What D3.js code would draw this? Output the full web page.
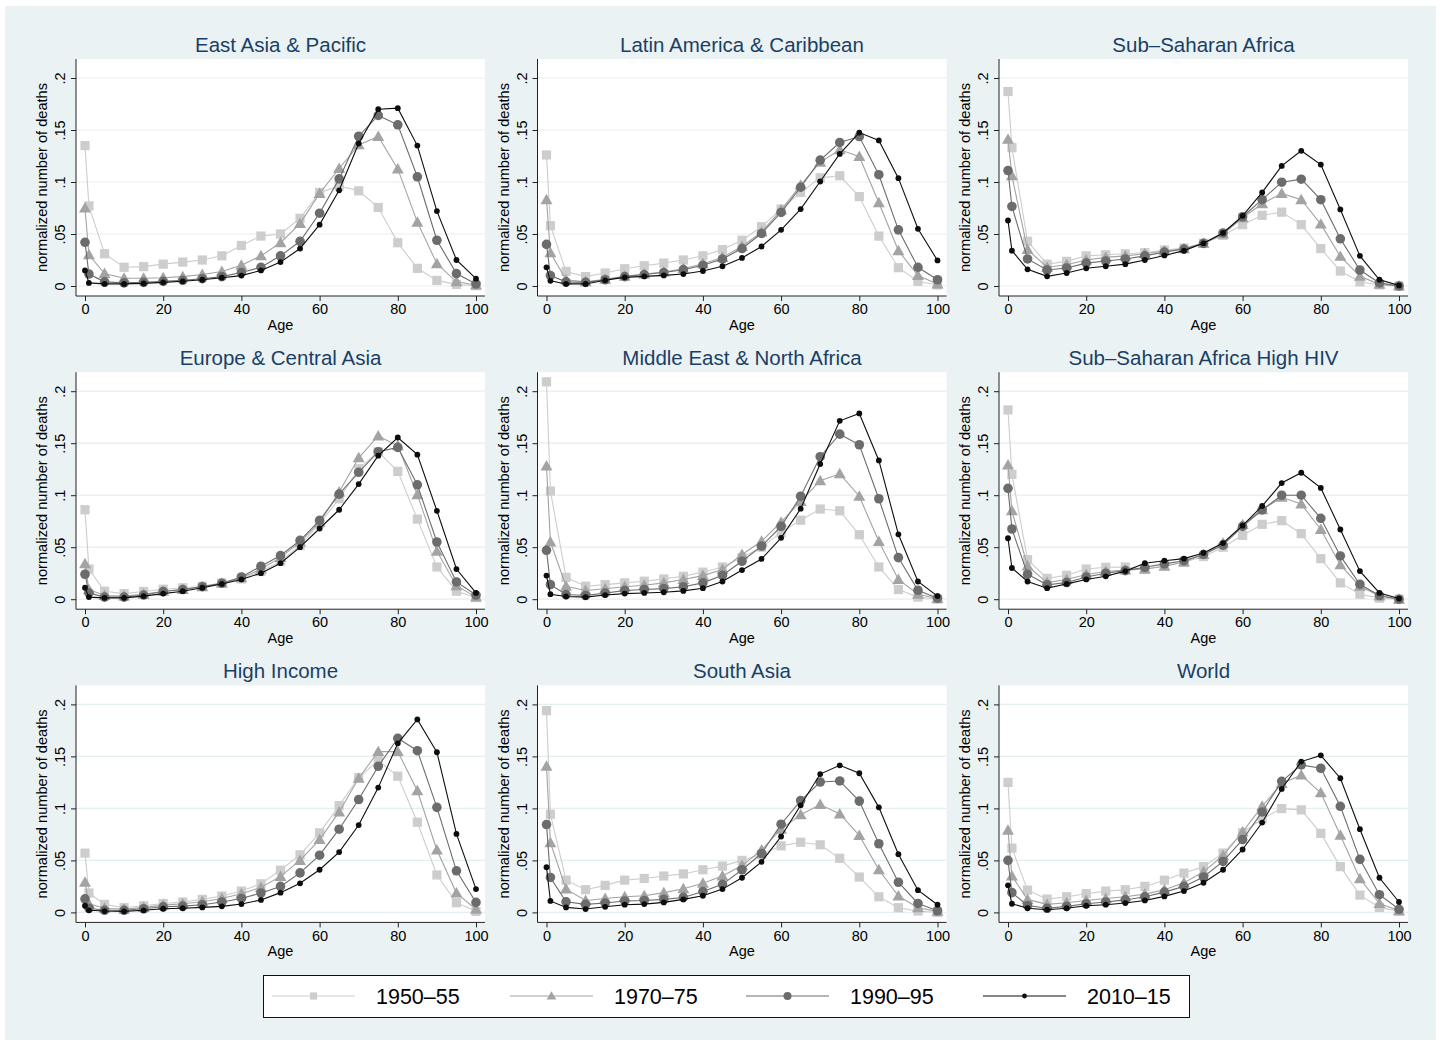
<!DOCTYPE html>
<html><head><meta charset="utf-8">
<script src="https://cdn.jsdelivr.net/npm/d3@7"></script>
<style>body{margin:0;background:#fff;font-family:"Liberation Sans",Arial,sans-serif;}</style>
</head><body><svg id="c" width="1440" height="1042"></svg>
<script>
const ages = [0,1,5,10,15,20,25,30,35,40,45,50,55,60,65,70,75,80,85,90,95,100];
const periods = ["1950–55","1970–75","1990–95","2010–15"];
const regions = ["East Asia & Pacific","Latin America & Caribbean","Sub–Saharan Africa",
  "Europe & Central Asia","Middle East & North Africa","Sub–Saharan Africa High HIV",
  "High Income","South Asia","World"];
const xTicks = [0,20,40,60,80,100];
const yTicks = [0,0.05,0.1,0.15,0.2];
const yTickLabels = ["0",".05",".1",".15",".2"];

const eastAsia = [
 [0.135,0.077,0.031,0.018,0.0186,0.021,0.023,0.025,0.029,0.039,0.048,0.050,0.065,0.090,0.096,0.0915,0.0755,0.0416,0.017,0.0054,0.0016,0.0003],
 [0.075,0.030,0.012,0.0075,0.0075,0.008,0.009,0.011,0.014,0.020,0.029,0.0416,0.060,0.089,0.113,0.1357,0.1437,0.1126,0.0614,0.0214,0.004,0.001],
 [0.042,0.0115,0.004,0.003,0.0035,0.0045,0.0055,0.007,0.009,0.013,0.018,0.029,0.043,0.070,0.103,0.144,0.164,0.155,0.105,0.044,0.012,0.002],
 [0.015,0.003,0.002,0.002,0.0025,0.0035,0.0045,0.006,0.008,0.010,0.015,0.023,0.036,0.059,0.092,0.137,0.170,0.171,0.135,0.072,0.025,0.007]];
const latinAmerica = [
 [0.126,0.058,0.014,0.009,0.0125,0.0166,0.0195,0.022,0.025,0.029,0.035,0.044,0.057,0.074,0.090,0.104,0.106,0.086,0.048,0.0176,0.0045,0.001],
 [0.083,0.032,0.006,0.004,0.0064,0.0093,0.0115,0.0134,0.0166,0.0214,0.0275,0.038,0.052,0.073,0.097,0.119,0.131,0.1245,0.080,0.034,0.010,0.002],
 [0.040,0.010,0.004,0.0035,0.006,0.009,0.011,0.013,0.0157,0.020,0.026,0.036,0.0505,0.0707,0.095,0.121,0.138,0.1437,0.107,0.054,0.018,0.006],
 [0.018,0.005,0.002,0.002,0.0055,0.0083,0.0093,0.0102,0.0115,0.0144,0.019,0.027,0.038,0.054,0.074,0.1005,0.127,0.1475,0.140,0.1037,0.055,0.0246]];
const subSaharan = [
 [0.187,0.133,0.043,0.021,0.0237,0.029,0.030,0.031,0.032,0.0346,0.0365,0.041,0.0486,0.059,0.068,0.071,0.059,0.036,0.0144,0.004,0.001,0.0],
 [0.141,0.106,0.035,0.018,0.0205,0.025,0.0275,0.029,0.031,0.0336,0.0358,0.041,0.050,0.0656,0.079,0.089,0.083,0.0595,0.0285,0.0093,0.0016,0.0],
 [0.111,0.0765,0.026,0.0154,0.0173,0.022,0.024,0.026,0.029,0.0326,0.0355,0.041,0.051,0.0666,0.083,0.0998,0.1027,0.083,0.0454,0.0154,0.003,0.0],
 [0.063,0.034,0.016,0.0093,0.0125,0.017,0.019,0.021,0.025,0.0294,0.034,0.041,0.051,0.0675,0.090,0.1155,0.130,0.1168,0.0736,0.029,0.006,0.0006]];
const europe = [
 [0.086,0.029,0.0077,0.0054,0.0074,0.0096,0.011,0.0125,0.0157,0.0195,0.0266,0.0365,0.0515,0.0726,0.0966,0.1254,0.1418,0.1229,0.077,0.031,0.0077,0.0016],
 [0.034,0.0093,0.0035,0.003,0.0048,0.0077,0.0093,0.012,0.0154,0.0205,0.029,0.040,0.055,0.074,0.103,0.136,0.157,0.1475,0.1005,0.046,0.013,0.002],
 [0.024,0.006,0.002,0.002,0.004,0.0074,0.0093,0.012,0.0154,0.0214,0.0317,0.042,0.0566,0.0758,0.101,0.122,0.1418,0.146,0.110,0.055,0.0166,0.004],
 [0.011,0.002,0.0013,0.0013,0.003,0.0054,0.0077,0.011,0.0147,0.019,0.025,0.0346,0.050,0.068,0.086,0.1107,0.138,0.1555,0.139,0.085,0.029,0.006]];
const middleEast = [
 [0.209,0.104,0.021,0.0125,0.014,0.0157,0.0173,0.0195,0.022,0.026,0.031,0.040,0.050,0.064,0.076,0.0867,0.085,0.062,0.031,0.0093,0.002,0.0],
 [0.128,0.055,0.0125,0.0083,0.010,0.012,0.0134,0.0157,0.019,0.0227,0.0285,0.043,0.0557,0.074,0.094,0.114,0.1206,0.099,0.0554,0.019,0.0048,0.0006],
 [0.047,0.014,0.0045,0.0035,0.0058,0.0083,0.0093,0.0102,0.012,0.0157,0.023,0.0365,0.051,0.070,0.099,0.137,0.1587,0.1485,0.0966,0.040,0.0086,0.001],
 [0.0227,0.0048,0.0026,0.002,0.004,0.0054,0.006,0.0067,0.008,0.0106,0.017,0.028,0.0387,0.059,0.087,0.130,0.1715,0.1786,0.1334,0.0624,0.017,0.003]];
const ssaHiv = [
 [0.182,0.120,0.038,0.020,0.023,0.029,0.0307,0.031,0.0285,0.032,0.0355,0.041,0.050,0.0614,0.072,0.0755,0.063,0.039,0.0157,0.0048,0.001,0.0],
 [0.129,0.085,0.032,0.016,0.019,0.0237,0.0266,0.028,0.029,0.0317,0.0358,0.043,0.054,0.0717,0.086,0.098,0.0915,0.067,0.033,0.0125,0.003,0.0],
 [0.1066,0.0675,0.024,0.0138,0.016,0.0214,0.025,0.0275,0.0307,0.034,0.037,0.043,0.052,0.070,0.0858,0.100,0.100,0.0778,0.0416,0.0144,0.0035,0.0],
 [0.0586,0.030,0.017,0.0106,0.0147,0.019,0.022,0.027,0.0346,0.037,0.039,0.0445,0.054,0.0707,0.0896,0.1117,0.1216,0.107,0.067,0.027,0.006,0.0006]];
const highIncome = [
 [0.057,0.0186,0.0077,0.0045,0.0064,0.0086,0.010,0.0125,0.0157,0.0205,0.0275,0.0406,0.0554,0.0765,0.1027,0.1296,0.146,0.131,0.0867,0.036,0.0093,0.001],
 [0.029,0.0083,0.004,0.003,0.0048,0.007,0.0083,0.0102,0.0134,0.018,0.024,0.0346,0.050,0.070,0.0966,0.129,0.1546,0.1546,0.117,0.060,0.0186,0.003],
 [0.013,0.004,0.002,0.002,0.0035,0.0054,0.006,0.0074,0.010,0.0134,0.0186,0.025,0.038,0.055,0.080,0.1085,0.1405,0.1674,0.1555,0.101,0.040,0.0096],
 [0.0064,0.002,0.0013,0.001,0.002,0.0035,0.004,0.0048,0.0058,0.008,0.012,0.019,0.028,0.041,0.058,0.084,0.120,0.1626,0.1856,0.154,0.0755,0.0224]];
const southAsia = [
 [0.194,0.0944,0.031,0.0218,0.026,0.031,0.0326,0.035,0.037,0.041,0.0445,0.050,0.0557,0.064,0.0675,0.065,0.052,0.034,0.015,0.0045,0.0013,0.0],
 [0.1405,0.067,0.0224,0.0115,0.0134,0.015,0.016,0.019,0.0227,0.028,0.035,0.045,0.060,0.080,0.094,0.1037,0.0947,0.074,0.041,0.0157,0.0045,0.001],
 [0.0845,0.0336,0.0102,0.0077,0.009,0.011,0.0115,0.0125,0.0144,0.020,0.027,0.041,0.0566,0.0848,0.1075,0.1254,0.1264,0.107,0.066,0.029,0.0086,0.0016],
 [0.0435,0.011,0.0048,0.0032,0.0054,0.0074,0.008,0.0096,0.0125,0.016,0.0224,0.0333,0.0486,0.073,0.103,0.133,0.1414,0.1338,0.101,0.056,0.0214,0.0074]];
const world = [
 [0.125,0.0618,0.0214,0.0128,0.015,0.018,0.0205,0.0218,0.025,0.031,0.0378,0.044,0.057,0.0765,0.090,0.0998,0.0986,0.076,0.044,0.0166,0.0048,0.001],
 [0.079,0.035,0.0125,0.0077,0.0093,0.0115,0.0134,0.015,0.0176,0.0218,0.0285,0.039,0.0547,0.0774,0.102,0.124,0.132,0.115,0.0742,0.0323,0.0086,0.0016],
 [0.050,0.019,0.0067,0.004,0.0058,0.0083,0.010,0.012,0.015,0.0195,0.025,0.034,0.049,0.070,0.0966,0.126,0.1418,0.1386,0.102,0.051,0.017,0.003],
 [0.026,0.0083,0.004,0.0026,0.004,0.0064,0.0074,0.009,0.0115,0.0154,0.0205,0.0285,0.041,0.0605,0.0864,0.1187,0.145,0.151,0.129,0.080,0.0333,0.010]];

const panelData = [eastAsia, latinAmerica, subSaharan, europe, middleEast, ssaHiv, highIncome, southAsia, world];

const colors = ["#cdcdcd","#a3a3a3","#6c6c6c","#0d0d0d"];
const font = '"Liberation Sans",Arial,sans-serif';

const svg = d3.select("#c");
svg.append("rect").attr("x",5).attr("y",6).attr("width",1431).attr("height",1034).attr("fill","#eaf2f3");

function marker(g, type, cx, cy, color, s){
  if(type===0){
    g.append("rect").attr("x",cx-s).attr("y",cy-s).attr("width",2*s).attr("height",2*s).attr("fill",color);
  } else if(type===1){
    const h = s*1.15;
    g.append("path").attr("d",`M${cx},${cy-h} L${cx+h},${cy+h*0.75} L${cx-h},${cy+h*0.75} Z`).attr("fill",color);
  } else {
    g.append("circle").attr("cx",cx).attr("cy",cy).attr("r",s).attr("fill",color);
  }
}
const mSize = [4.6,5.2,4.8,2.9];

const colStep = 461.5, rowStep = 313.2;
regions.forEach((name, i) => {
  const c = i % 3, r = Math.floor(i / 3);
  const ox = c*colStep, oy = r*rowStep;
  const left = 76+ox, right = 485+ox, top = 59+oy, bottom = 296+oy;
  const x = d3.scaleLinear().domain([0,100]).range([85+ox, 476+ox]);
  const y = d3.scaleLinear().domain([0,0.2]).range([286+oy, 78+oy]);
  const g = svg.append("g");
  g.append("rect").attr("x",left).attr("y",top).attr("width",right-left).attr("height",bottom-top).attr("fill","#fff");
  g.selectAll(null).data(yTicks).enter().append("line")
    .attr("x1",left).attr("x2",right).attr("y1",d=>y(d)).attr("y2",d=>y(d))
    .attr("stroke","#e4eef0").attr("stroke-width",1.2);
  g.append("text").attr("x",(left+right)/2).attr("y",51.5+oy).attr("text-anchor","middle")
    .attr("font-family",font).attr("font-size",20.5).attr("fill","#1a3f66").text(name);
  const yAxis = d3.axisLeft(y).tickValues(yTicks).tickSize(5).tickFormat((d,k)=>yTickLabels[k]);
  const ya = g.append("g").attr("transform",`translate(${left},0)`).call(yAxis);
  ya.select(".domain").attr("d",`M0,${top}V${bottom}`).attr("stroke","#222");
  ya.selectAll(".tick line").attr("stroke","#222");
  ya.selectAll(".tick text").attr("font-family",font).attr("font-size",14.5).attr("fill","#000")
    .attr("text-anchor","middle").attr("dy","0").attr("transform","translate(-11,0) rotate(-90)").attr("y",0).attr("x",0);
  const xAxis = d3.axisBottom(x).tickValues(xTicks).tickSize(5).tickFormat(d3.format("d"));
  const xa = g.append("g").attr("transform",`translate(0,${bottom})`).call(xAxis);
  xa.select(".domain").attr("d",`M${left},0H${right}`).attr("stroke","#222");
  xa.selectAll(".tick line").attr("stroke","#222");
  xa.selectAll(".tick text").attr("font-family",font).attr("font-size",14.5).attr("fill","#000").attr("y",8);
  g.append("text").attr("x",(left+right)/2).attr("y",330+oy).attr("text-anchor","middle")
    .attr("font-family",font).attr("font-size",14.5).text("Age");
  g.append("text").attr("transform",`translate(${47+ox},${(top+bottom)/2}) rotate(-90)`).attr("text-anchor","middle")
    .attr("font-family",font).attr("font-size",14.6).text("normalized number of deaths");
  const line = d3.line().x((d,k)=>x(ages[k])).y(d=>y(d));
  panelData[i].forEach((vals, s) => {
    g.append("path").attr("d",line(vals)).attr("fill","none").attr("stroke",colors[s]).attr("stroke-width",1.1);
    vals.forEach((v,k)=> marker(g, s, x(ages[k]), y(v), colors[s], mSize[s]));
  });
});

const lg = svg.append("g");
lg.append("rect").attr("x",263.5).attr("y",975.5).attr("width",926).attr("height",42).attr("fill","#fff").attr("stroke","#111").attr("stroke-width",1);
const legX = [272, 510, 746, 983];
const legMS = [3.6,4.2,4.0,2.4];
periods.forEach((p, s) => {
  const x0 = legX[s];
  lg.append("line").attr("x1",x0).attr("x2",x0+83).attr("y1",996).attr("y2",996).attr("stroke",colors[s]).attr("stroke-width",1.1);
  marker(lg, s, x0+41.5, 996, colors[s], legMS[s]);
  lg.append("text").attr("x",x0+104).attr("y",1004).attr("font-family",font).attr("font-size",21.5).attr("fill","#000").text(p);
});
</script></body></html>
